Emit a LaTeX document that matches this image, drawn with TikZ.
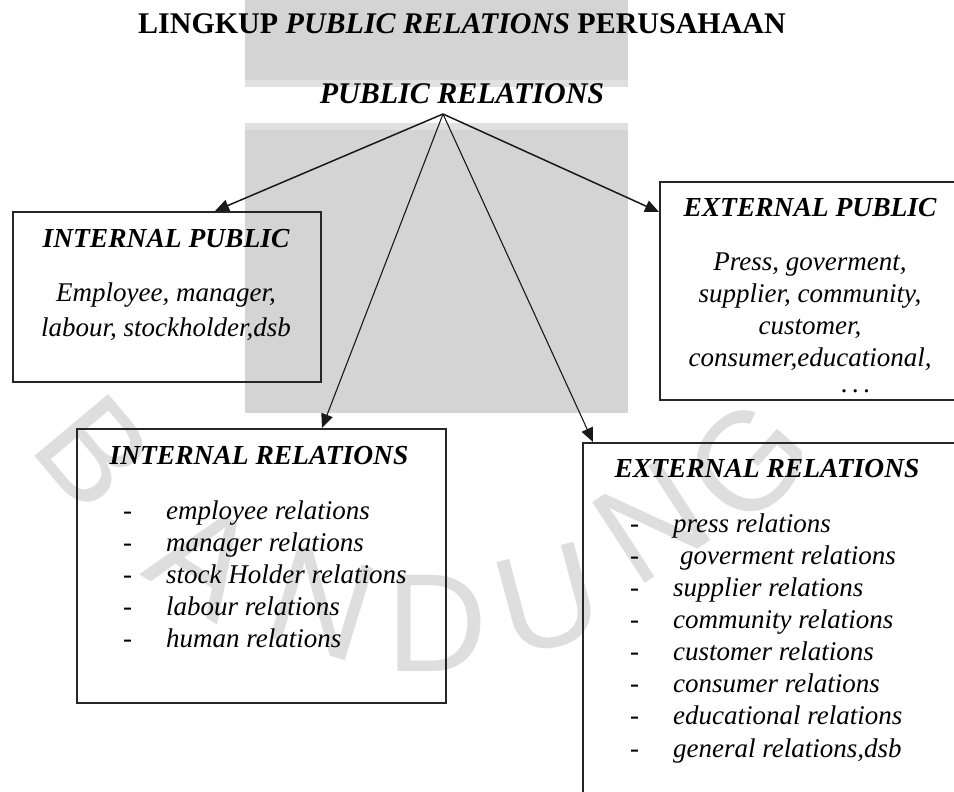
\documentclass[tikz,border=0pt]{standalone}
\usepackage{fontspec}
\setmainfont{Liberation Serif}
\setsansfont{Liberation Sans}
\usetikzlibrary{arrows.meta}

\begin{document}
\begin{tikzpicture}[
  x=1pt, y=-1pt,
  box/.style={
    draw=black!85,
    line width=1.8pt,
    rectangle,
    inner sep=0pt,
    anchor=north west
  },
  head/.style={
    font=\fontsize{27.5}{32}\selectfont\bfseries\itshape,
    anchor=base,
    inner sep=0pt
  },
  body/.style={
    font=\fontsize{27}{32}\selectfont\itshape,
    anchor=base,
    inner sep=0pt
  },
  entry/.style={
    font=\fontsize{27}{32}\selectfont\itshape,
    anchor=base west,
    inner sep=0pt
  },
  link/.style={
    -{Triangle[length=14pt,width=12pt]},
    line width=1.5pt,
    draw=black!90
  },
  wmark/.style={
    font=\fontsize{140}{140}\selectfont\sffamily,
    text=black!13,
    inner sep=0pt
  }
]
  \useasboundingbox (0,0) rectangle (954,792);

  % background blocks
  \fill[black!12] (245,0) rectangle (628,87);
  \fill[black!17] (245,0) rectangle (628,80);
  \fill[black!12] (245,123) rectangle (628,413);
  \fill[black!17] (245,130) rectangle (628,413);

  % faint lettering round the lower arc
  \node[wmark, rotate=-50] (wmB) at (94,452) {B};
  \node[wmark, rotate=-33] (wmA) at (205,560) {A};
  \node[wmark, rotate=-17] (wmN) at (322,603) {N};
  \node[wmark, rotate=0] (wmD) at (437,623) {D};
  \node[wmark, rotate=15] (wmU) at (548,600) {U};
  \node[wmark, rotate=33] (wmNn) at (652,522) {N};
  \node[wmark, rotate=48] (wmG) at (748,462) {G};

  \node[font=\fontsize{30}{32}\selectfont\bfseries, anchor=base, inner sep=0pt]
    (title) at (462,34) {LINGKUP \textit{PUBLIC RELATIONS} PERUSAHAAN};
  \node[font=\fontsize{30}{32}\selectfont\bfseries\itshape, anchor=base, inner sep=0pt]
    (pr) at (462,103) {PUBLIC RELATIONS};
  \coordinate (apex) at (443,114);

  % the four boxes
  \node[box, minimum width=308pt, minimum height=170pt] (intpub) at (12,211) {};
  \node[box, minimum width=310pt, minimum height=218pt] (extpub) at (659,181) {};
  \node[box, minimum width=369pt, minimum height=274pt] (intrel) at (76,428) {};
  \node[box, minimum width=380pt, minimum height=360pt] (extrel) at (582,442) {};

  % internal public
  \node[head] (intpubhd) at (166,247) {INTERNAL PUBLIC};
  \node[body] (intpub1) at (166,301) {Employee, manager,};
  \node[body] (intpub2) at (166,336) {labour, stockholder,dsb};

  % external public
  \node[head] (extpubhd) at (810,216) {EXTERNAL PUBLIC};
  \node[body] (extpub1) at (810,270) {Press, goverment,};
  \node[body] (extpub2) at (810,302) {supplier, community,};
  \node[body] (extpub3) at (810,334) {customer,};
  \node[body] (extpub4) at (810,366) {consumer,educational,};
  \node[body] (extpub5) at (856,392) {.\,.\,.};

  % internal relations
  \node[head] (intrelhd) at (259,464) {INTERNAL RELATIONS};
  \node[entry] (ir1) at (123,519) {\makebox[43pt][l]{\upshape-}employee relations};
  \node[entry] (ir2) at (123,551) {\makebox[43pt][l]{\upshape-}manager relations};
  \node[entry] (ir3) at (123,583) {\makebox[43pt][l]{\upshape-}stock Holder relations};
  \node[entry] (ir4) at (123,615) {\makebox[43pt][l]{\upshape-}labour relations};
  \node[entry] (ir5) at (123,647) {\makebox[43pt][l]{\upshape-}human relations};

  % external relations
  \node[head] (extrelhd) at (767,477) {EXTERNAL RELATIONS};
  \node[entry] (er1) at (630,532) {\makebox[43pt][l]{\upshape-}press relations};
  \node[entry] (er2) at (630,564) {\makebox[43pt][l]{\upshape-}\hspace{7pt}goverment relations};
  \node[entry] (er3) at (630,596) {\makebox[43pt][l]{\upshape-}supplier relations};
  \node[entry] (er4) at (630,628) {\makebox[43pt][l]{\upshape-}community relations};
  \node[entry] (er5) at (630,660) {\makebox[43pt][l]{\upshape-}customer relations};
  \node[entry] (er6) at (630,692) {\makebox[43pt][l]{\upshape-}consumer relations};
  \node[entry] (er7) at (630,724) {\makebox[43pt][l]{\upshape-}educational relations};
  \node[entry] (er8) at (630,757) {\makebox[43pt][l]{\upshape-}general relations,dsb};

  \draw[link] (apex) -- ([xshift=203pt]intpub.north west);
  \draw[link] (apex) -- ([yshift=-31pt]extpub.north west);
  \draw[link, line width=1.1pt] (apex) -- ([xshift=246pt]intrel.north west);
  \draw[link, line width=1.1pt] (apex) -- ([xshift=11pt]extrel.north west);
\end{tikzpicture}
\end{document}
